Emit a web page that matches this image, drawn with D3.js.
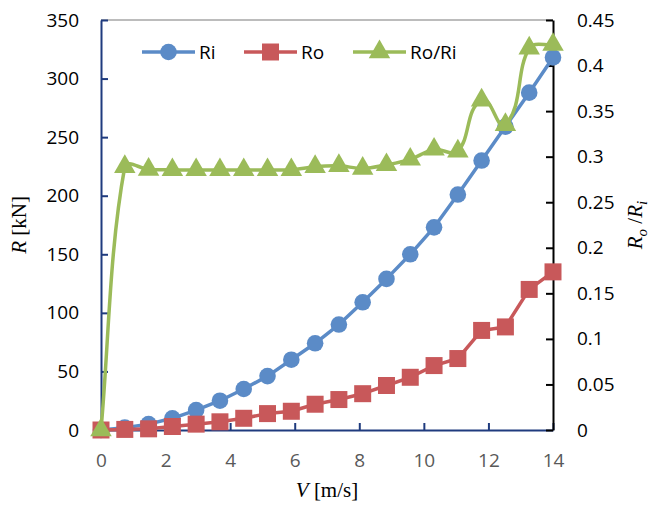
<!DOCTYPE html>
<html>
<head>
<meta charset="utf-8">
<script src="https://cdn.jsdelivr.net/npm/d3@7"></script>
<style>
  body { margin: 0; background: #fff; }
  svg { display: block; }
</style>
</head>
<body>
<div id="chart"></div>
<script>
// speeds, 20 equally spaced points from 0 to 14 m/s
const speeds = [0, 0.737, 1.474, 2.211, 2.947, 3.684, 4.421, 5.158, 5.895, 6.632,
  7.368, 8.105, 8.842, 9.579, 10.316, 11.053, 11.789, 12.526, 13.263, 14];
const ri = [0, 2, 5, 10, 17, 25, 35, 46, 60, 74, 90, 109, 129, 150, 173, 201, 230, 259, 288, 318];
const ro = [0, 0.5, 1, 3, 5, 7, 10, 14, 16, 22, 26, 31, 38, 45, 55, 61, 85, 88, 120, 135];
const ratio = [0, 0.289, 0.286, 0.2855, 0.2855, 0.2855, 0.2855, 0.2855, 0.2855, 0.289,
  0.29, 0.287, 0.291, 0.297, 0.308, 0.306, 0.362, 0.335, 0.419, 0.423];
const xTicks = [0, 2, 4, 6, 8, 10, 12, 14];
const leftTicks = [0, 50, 100, 150, 200, 250, 300, 350];
const rightTicks = [0, 0.05, 0.1, 0.15, 0.2, 0.25, 0.3, 0.35, 0.4, 0.45];

const width = 662, height = 506;
const margin = { top: 20, right: 109, bottom: 76, left: 101 };
const innerW = width - margin.left - margin.right;
const innerH = height - margin.top - margin.bottom;

const blue = '#5b8bc7', red = '#c8585a', green = '#9bbb59';
const axisBlue = '#1f3b7e';
const sans = "'Open Sans', 'Noto Sans', sans-serif";
const serif = "'Liberation Serif', 'DejaVu Serif', serif";

const svg = d3.select('#chart').append('svg')
  .attr('width', width)
  .attr('height', height);

const g = svg.append('g').attr('transform', `translate(${margin.left},${margin.top})`);

const x = d3.scaleLinear().domain([0, 14]).range([0, innerW]);
const yL = d3.scaleLinear().domain([0, 350]).range([innerH, 0]);
const yR = d3.scaleLinear().domain([0, 0.45]).range([innerH, 0]);

// top border
g.append('line')
  .attr('x1', 0).attr('x2', innerW).attr('y1', 0).attr('y2', 0)
  .attr('stroke', '#a6a6a6').attr('stroke-width', 1.5);

// bottom axis (ticks point inward)
const xAxis = g.append('g')
  .attr('transform', `translate(0,${innerH})`)
  .call(d3.axisBottom(x).tickValues(xTicks).tickSizeInner(-7).tickSizeOuter(0).tickPadding(24));
xAxis.select('.domain').attr('stroke', axisBlue).attr('stroke-width', 2);
xAxis.selectAll('.tick line').attr('stroke', axisBlue).attr('stroke-width', 2);
xAxis.selectAll('text').attr('fill', '#595959').attr('font-size', 19).attr('font-family', sans);

// left axis
const lAxis = g.append('g')
  .call(d3.axisLeft(yL).tickValues(leftTicks).tickSizeInner(-7).tickSizeOuter(0).tickPadding(22));
lAxis.select('.domain').attr('stroke', axisBlue).attr('stroke-width', 2);
lAxis.selectAll('.tick line').attr('stroke', axisBlue).attr('stroke-width', 2);
lAxis.selectAll('text').attr('fill', '#000').attr('font-size', 19).attr('font-family', sans);

// right axis
const rAxis = g.append('g')
  .attr('transform', `translate(${innerW},0)`)
  .call(d3.axisRight(yR).tickValues(rightTicks).tickFormat(d3.format('~g'))
    .tickSizeInner(-7).tickSizeOuter(0).tickPadding(24));
rAxis.select('.domain').attr('stroke', '#000').attr('stroke-width', 2);
rAxis.selectAll('.tick line').attr('stroke', '#000').attr('stroke-width', 2);
rAxis.selectAll('text').attr('fill', '#000').attr('font-size', 19).attr('font-family', sans);

// series
const lineL = d3.line().x((d, i) => x(speeds[i])).y(d => yL(d));

// Excel-style smoothing: tangent along (next - prev), handle = 1/3 of the segment length
function smoothLine(values) {
  const pts = values.map((d, i) => [x(speeds[i]), yR(d)]);
  const n = pts.length;
  const tan = pts.map((p, i) => {
    const a = pts[Math.max(0, i - 1)], b = pts[Math.min(n - 1, i + 1)];
    const dx = b[0] - a[0], dy = b[1] - a[1], len = Math.hypot(dx, dy) || 1;
    return [dx / len, dy / len];
  });
  const p = d3.path();
  p.moveTo(pts[0][0], pts[0][1]);
  for (let i = 0; i < n - 1; i++) {
    const a = pts[i], b = pts[i + 1];
    const L = Math.hypot(b[0] - a[0], b[1] - a[1]) / 3;
    p.bezierCurveTo(a[0] + tan[i][0] * L, a[1] + tan[i][1] * L,
      b[0] - tan[i + 1][0] * L, b[1] - tan[i + 1][1] * L, b[0], b[1]);
  }
  return p.toString();
}

const circle = d3.symbol().type(d3.symbolCircle).size(Math.PI * 8.3 * 8.3);
const square = d3.symbol().type(d3.symbolSquare).size(17 * 17);
const triangle = d3.symbol().type(d3.symbolTriangle).size(200);

function drawSeries(values, yScale, line, color, sym) {
  g.append('path')
    .datum(values)
    .attr('fill', 'none')
    .attr('stroke', color)
    .attr('stroke-width', 3.5)
    .attr('stroke-linejoin', 'round')
    .attr('d', line);
  g.append('g').selectAll('path')
    .data(values)
    .join('path')
    .attr('transform', (d, i) => `translate(${x(speeds[i])},${yScale(d)})`)
    .attr('d', sym)
    .attr('fill', color);
}

drawSeries(ri, yL, lineL, blue, circle);
drawSeries(ro, yL, lineL, red, square);
drawSeries(ratio, yR, smoothLine, green, triangle);

// legend
const legendItems = [
  { label: 'Ri', color: blue, sym: circle, x: 142 },
  { label: 'Ro', color: red, sym: square, x: 244 },
  { label: 'Ro/Ri', color: green, sym: triangle, x: 353 }
];
const legend = svg.append('g').attr('transform', 'translate(0,52)');
legendItems.forEach(it => {
  const lg = legend.append('g').attr('transform', `translate(${it.x},0)`);
  lg.append('line').attr('x1', 0).attr('x2', 53).attr('stroke', it.color).attr('stroke-width', 3.5);
  lg.append('path').attr('transform', 'translate(26.5,0)').attr('d', it.sym).attr('fill', it.color);
  lg.append('text')
    .attr('x', 57).attr('y', 7)
    .attr('font-size', 19).attr('font-family', sans)
    .text(it.label);
});

// axis titles
svg.append('text')
  .attr('transform', `translate(26,${margin.top + innerH / 2}) rotate(-90)`)
  .attr('text-anchor', 'middle')
  .attr('font-family', serif).attr('font-size', 21)
  .call(t => {
    t.append('tspan').attr('font-style', 'italic').text('R');
    t.append('tspan').text(' [kN]');
  });

svg.append('text')
  .attr('x', margin.left + innerW / 2).attr('y', 497)
  .attr('text-anchor', 'middle')
  .attr('font-family', serif).attr('font-size', 21)
  .call(t => {
    t.append('tspan').attr('font-style', 'italic').text('V');
    t.append('tspan').text(' [m/s]');
  });

svg.append('text')
  .attr('transform', `translate(642,${margin.top + innerH / 2}) rotate(-90)`)
  .attr('text-anchor', 'middle')
  .attr('font-family', serif).attr('font-size', 21)
  .call(t => {
    t.append('tspan').attr('font-style', 'italic').text('R');
    t.append('tspan').attr('font-style', 'italic').attr('font-size', 15).attr('dy', 5).text('o');
    t.append('tspan').attr('dy', -5).text(' /');
    t.append('tspan').attr('font-style', 'italic').text('R');
    t.append('tspan').attr('font-style', 'italic').attr('font-size', 15).attr('dy', 5).text('i');
  });
</script>
</body>
</html>
